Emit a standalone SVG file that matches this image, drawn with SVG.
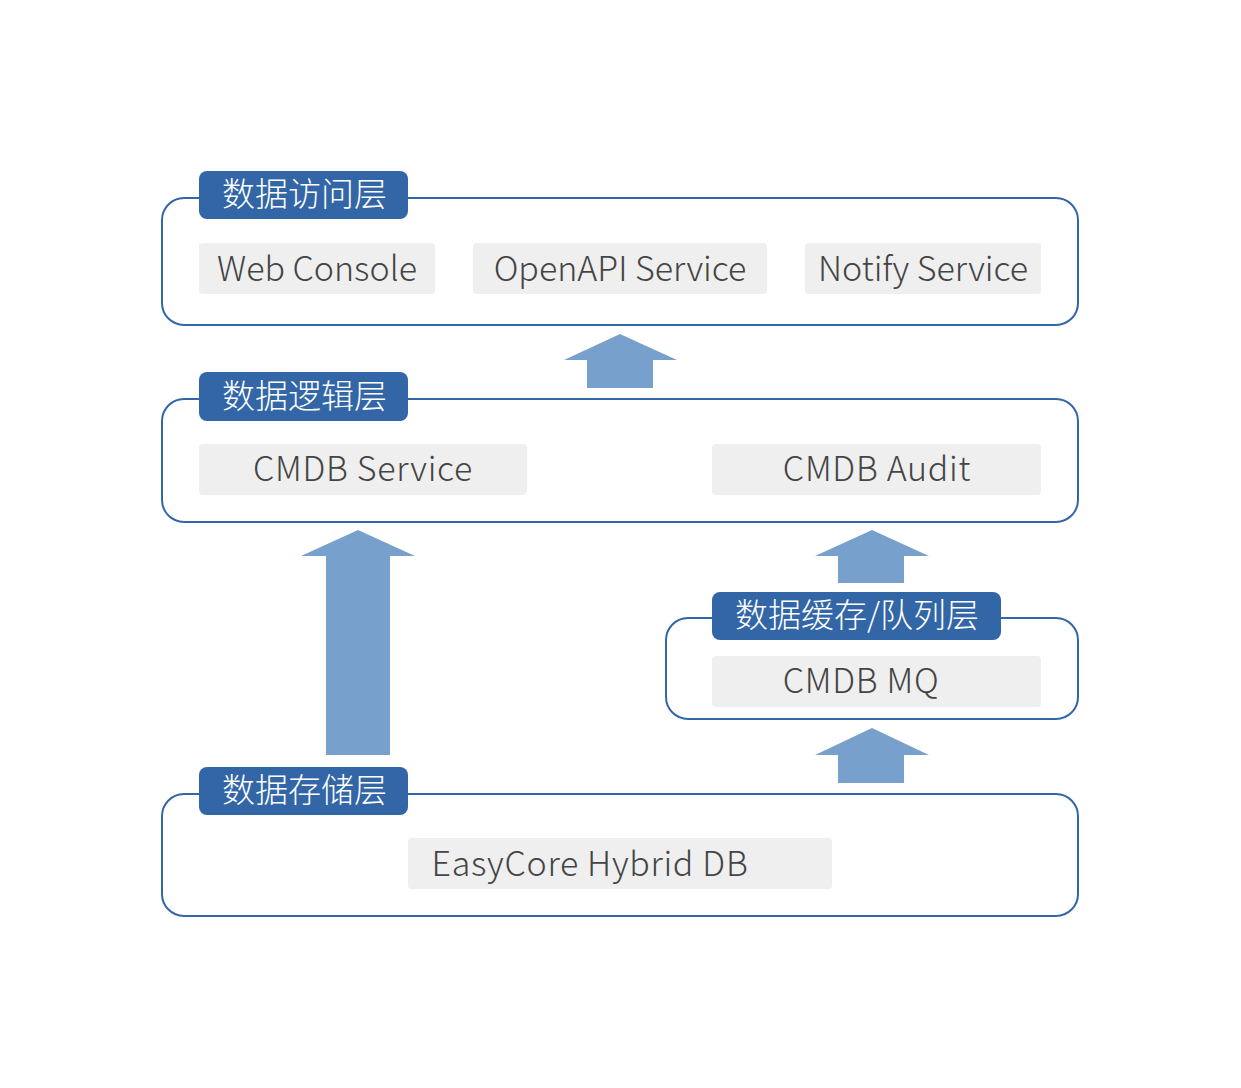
<svg xmlns="http://www.w3.org/2000/svg" width="1241" height="1088" viewBox="0 0 1241 1088">
<style>
.layer{fill:#fff;stroke:#3366a6;stroke-width:2}
.tag{fill:#3366a6}
.tagt{fill:#fff;font-family:"Noto Sans CJK SC","Noto Sans",sans-serif;font-weight:300;font-size:33px}
.item{fill:#efefef}
.itemt{fill:#444;font-family:"Noto Sans CJK SC","Noto Sans",sans-serif;font-weight:300;font-size:34px;text-anchor:middle}
.sp{letter-spacing:0.7px}
.arrow{fill:#77a1cc}
</style>
<rect width="1241" height="1088" fill="#fff"/>
<g id="connectors">
<polygon class="arrow" points="620,334 677,360 653,360 653,388 587,388 587,360 564,360"/>
<polygon class="arrow" points="358,530 415,556 390,556 390,755 326,755 326,556 301,556"/>
<polygon class="arrow" points="872,530 929,556 904,556 904,583 838,583 838,556 815,556"/>
<polygon class="arrow" points="872,728 929,755 904,755 904,783 838,783 838,755 815,755"/>
</g>
<g id="access-layer">
<rect class="layer" x="162" y="198" width="916" height="127" rx="22"/>
<rect class="tag" x="199" y="171" width="209" height="48" rx="8"/>
<text class="tagt" x="222" y="206">数据访问层</text>
</g>
<g id="web-console"><rect class="item" x="199" y="243" width="236" height="51" rx="4"/><text class="itemt" x="317" y="281">Web Console</text></g>
<g id="openapi-service"><rect class="item" x="473" y="243" width="294" height="51" rx="4"/><text class="itemt" x="620" y="281">OpenAPI Service</text></g>
<g id="notify-service"><rect class="item" x="805" y="243" width="236" height="51" rx="4"/><text class="itemt" x="923" y="281">Notify Service</text></g>
<g id="logic-layer">
<rect class="layer" x="162" y="399" width="916" height="123" rx="22"/>
<rect class="tag" x="199" y="372" width="209" height="49" rx="8"/>
<text class="tagt" x="222" y="408">数据逻辑层</text>
</g>
<g id="cmdb-service"><rect class="item" x="199" y="444" width="328" height="51" rx="4"/><text class="itemt sp" x="363" y="481">CMDB Service</text></g>
<g id="cmdb-audit"><rect class="item" x="712" y="444" width="329" height="51" rx="4"/><text class="itemt sp" x="877" y="481">CMDB Audit</text></g>
<g id="cache-layer">
<rect class="layer" x="666" y="618" width="412" height="101" rx="22"/>
<rect class="tag" x="712" y="592" width="289" height="48" rx="8"/>
<text class="tagt" x="735" y="627">数据缓存/队列层</text>
</g>
<g id="cmdb-mq"><rect class="item" x="712" y="656" width="329" height="51" rx="4"/><text class="itemt sp" x="861" y="693">CMDB MQ</text></g>
<g id="storage-layer">
<rect class="layer" x="162" y="794" width="916" height="122" rx="22"/>
<rect class="tag" x="199" y="767" width="209" height="48" rx="8"/>
<text class="tagt" x="222" y="802">数据存储层</text>
</g>
<g id="easycore"><rect class="item" x="408" y="838" width="424" height="51" rx="4"/><text class="itemt sp" x="590" y="876">EasyCore Hybrid DB</text></g>
</svg>
